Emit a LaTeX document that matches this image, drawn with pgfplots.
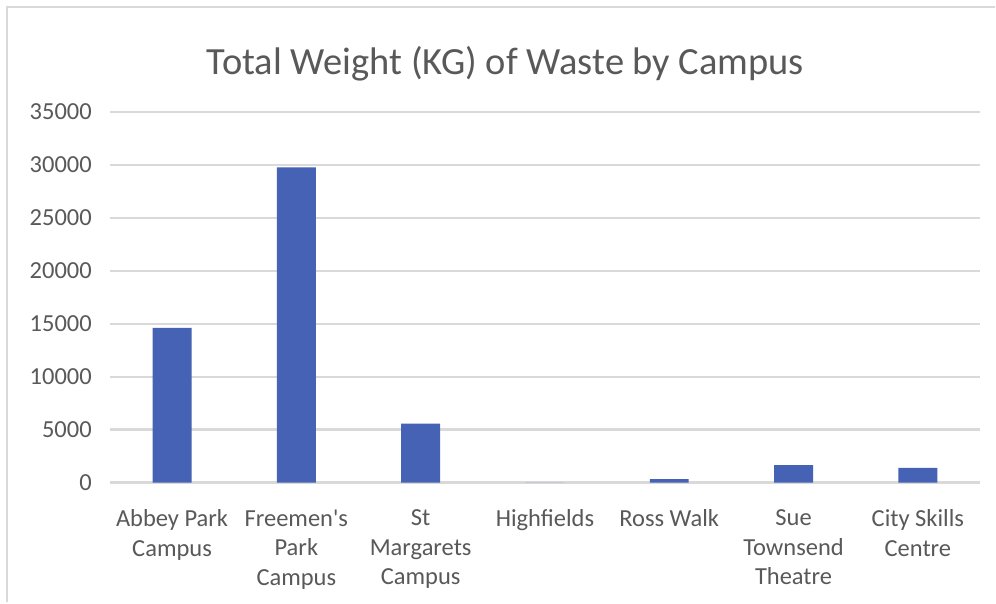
\documentclass[border=0pt]{standalone}
\usepackage{pgfplots}
\pgfplotsset{compat=1.18}
\usepackage{fontspec}
\setmainfont{Carlito}[Ligatures=TeXOff]
\definecolor{barblue}{RGB}{69,98,180}
\definecolor{txtgray}{RGB}{89,89,89}
\definecolor{gridgray}{RGB}{217,217,217}
\begin{document}
\begin{tikzpicture}
\fill[white] (0pt,0pt) rectangle (996pt,603pt);
\draw[gridgray, line width=2pt] (7pt,0pt) -- (7pt,596pt) -- (996pt,596pt);
\node[txtgray, anchor=base, inner sep=0pt, font=\fontsize{38.5}{46}\selectfont] at (506pt,528pt) {Total Weight (KG) of Waste by Campus};
\begin{axis}[
  at={(110pt,120pt)}, anchor=south west,
  scale only axis, width=871pt, height=371pt,
  xmin=-0.5, xmax=6.5, ymin=0, ymax=35000,
  ybar, bar width=39pt,
  xtick={0,1,2,3,4,5,6},
  xticklabels={{Abbey Park\\Campus},{Freemen's\\Park\\Campus},{St\\Margarets\\Campus},{Highfields},{Ross Walk},{Sue\\Townsend\\Theatre},{City Skills\\Centre}},
  ytick={0,5000,10000,15000,20000,25000,30000,35000},
  scaled y ticks=false,
  /pgf/number format/assume math mode=true,
  yticklabel={\pgfmathprintnumber[fixed,set thousands separator={}]{\tick}},
  axis line style={draw=none},
  major tick length=0pt,
  ymajorgrids,
  grid style={gridgray, line width=2.2pt},
  yticklabel style={txtgray, font=\fontsize{24.5}{29.5}\selectfont, anchor=east, inner sep=0pt, xshift=-18pt},
  xticklabel style={txtgray, font=\fontsize{24.5}{29.5}\selectfont, align=center, anchor=north, inner sep=0pt, yshift=-27pt},
]
\addplot[fill=barblue, draw=none] coordinates {(0,14600) (1,29750) (2,5570) (3,0) (4,320) (5,1630) (6,1380)};
\end{axis}
\end{tikzpicture}
\end{document}
